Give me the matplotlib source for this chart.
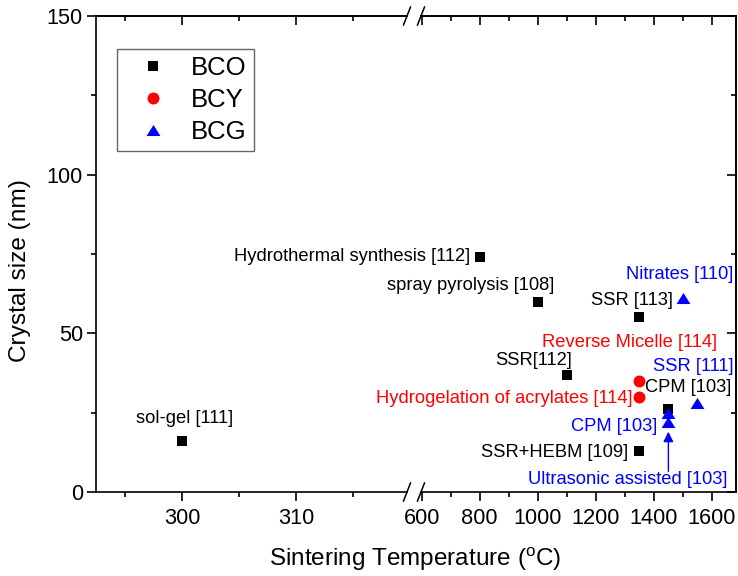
import matplotlib
matplotlib.use("Agg")
import matplotlib.pyplot as plt
from matplotlib.lines import Line2D
from matplotlib.path import Path

plt.rcParams['font.family'] = ['Liberation Sans', 'DejaVu Sans']
plt.rcParams['mathtext.fontset'] = 'custom'
plt.rcParams['mathtext.rm'] = 'Liberation Sans'
plt.rcParams['mathtext.it'] = 'Liberation Sans:italic'

# ---- data: sintering temperature (°C) vs crystal size (nm) ----
bco_temp = [300, 800, 1000, 1350, 1100, 1450, 1350]
bco_size = [16, 74, 60, 55, 37, 26, 13]

bcy_temp = [1350, 1350]
bcy_size = [35, 30]

bcg_temp = [1500, 1550, 1450, 1450]
bcg_size = [61, 28, 25, 22]

series_names = ["BCO", "BCY", "BCG"]
series_colors = ["black", "#ff0000", "#0000ff"]

# method labels: text, x, y, colour, horizontal alignment
labels = [
    ("sol-gel [111]", 300.2, 23.2, "black", "center"),
    ("Hydrothermal synthesis [112]", 766, 74.2, "black", "right"),
    ("spray pyrolysis [108]", 768, 65.1, "black", "center"),
    ("SSR [113]", 1326, 60.4, "black", "center"),
    ("SSR[112]", 987, 41.4, "black", "center"),
    ("CPM [103]", 1519, 32.8, "black", "center"),
    ("SSR+HEBM [109]", 1311, 12.6, "black", "right"),
    ("Reverse Micelle [114]", 1316, 47.1, "#ff0000", "center"),
    ("Hydrogelation of acrylates [114]", 1328, 29.6, "#ff0000", "right"),
    ("Nitrates [110]", 1490, 68.4, "#0000ff", "center"),
    ("SSR [111]", 1536, 39.4, "#0000ff", "center"),
    ("CPM [103]", 1410, 20.5, "#0000ff", "right"),
    ("Ultrasonic assisted [103]", 1309, 3.8, "#0000ff", "center"),
]

# ---- figure with a broken x axis (two panels) ----
W, H = 738, 576
fig = plt.figure(figsize=(W / 100, H / 100), dpi=100)

ax_bot, ax_top = 492, 16
x_left, x_brk_l, x_brk_r, x_right = 96, 407, 421, 736
fb = (H - ax_bot) / H
fh = (ax_bot - ax_top) / H
ax1 = fig.add_axes([x_left / W, fb, (x_brk_l - x_left) / W, fh])
ax2 = fig.add_axes([x_brk_r / W, fb, (x_right - x_brk_r) / W, fh])

ax1.set_xlim(292.46, 319.7)
ax2.set_xlim(597.6, 1683)
for ax in (ax1, ax2):
    ax.set_ylim(0, 150)

tri = Path([(-1, -0.8), (1, -0.8), (0, 0.8), (-1, -0.8)],
           [Path.MOVETO, Path.LINETO, Path.LINETO, Path.CLOSEPOLY])

for ax in (ax1, ax2):
    ax.plot(bco_temp, bco_size, ls='none', marker='s', ms=7.7,
            color=series_colors[0], mew=0)
    ax.plot(bcy_temp, bcy_size, ls='none', marker='o', ms=8.6,
            color=series_colors[1], mew=0)
    ax.plot(bcg_temp, bcg_size, ls='none', marker=tri, ms=10,
            color=series_colors[2], mew=0)

lw = 1.2
tick_fs = 15.7
maj_len, min_len = 6.5, 3.5

# left panel
ax1.spines['right'].set_visible(False)
ax1.set_xticks([300, 310])
ax1.set_xticks([295, 305, 315], minor=True)
ax1.set_yticks([0, 50, 100, 150])
ax1.set_yticks([25, 75, 125], minor=True)
ax1.tick_params(which='both', direction='out', width=lw, labelsize=tick_fs,
                top=False, right=False)
ax1.tick_params(which='major', length=maj_len)
ax1.tick_params(which='minor', length=min_len)
ax1.tick_params(axis='x', pad=5)
ax1.tick_params(axis='y', pad=3)

# right panel
ax2.spines['left'].set_visible(False)
ax2.set_xticks([600, 800, 1000, 1200, 1400, 1600])
ax2.set_xticks([700, 900, 1100, 1300, 1500], minor=True)
ax2.tick_params(which='both', direction='out', width=lw, labelsize=tick_fs,
                top=False, right=False, left=False, labelleft=False)
ax2.tick_params(which='major', length=maj_len)
ax2.tick_params(which='minor', length=min_len)
ax2.tick_params(axis='x', pad=5)

for ax in (ax1, ax2):
    for s in ax.spines.values():
        s.set_linewidth(lw)

# inward mirror ticks on top and right
for ax in (ax1, ax2):
    sec = ax.secondary_xaxis('top')
    sec.set_xticks(ax.get_xticks())
    sec.set_xticks(ax.get_xticks(minor=True), minor=True)
    sec.set_xticklabels([])
    sec.tick_params(which='both', direction='in', width=lw)
    sec.tick_params(which='major', length=maj_len)
    sec.tick_params(which='minor', length=min_len)
    sec.spines['top'].set_linewidth(lw)
    ax.set_xlim(ax.get_xlim())

secy = ax2.secondary_yaxis('right')
secy.set_yticks([0, 50, 100, 150])
secy.set_yticks([25, 75, 125], minor=True)
secy.set_yticklabels([])
secy.tick_params(which='both', direction='in', width=lw)
secy.tick_params(which='major', length=maj_len)
secy.tick_params(which='minor', length=min_len)
secy.spines['right'].set_linewidth(lw)

# break marks
for xc in (x_brk_l, x_brk_r):
    for yc in (ax_top, ax_bot):
        fig.add_artist(Line2D([(xc - 3.5) / W, (xc + 3.5) / W],
                              [(H - yc - 9) / H, (H - yc + 9) / H],
                              color='black', lw=1.1, transform=fig.transFigure))

# method labels
for text, x, y, col, ha in labels:
    ax = ax1 if x < 500 else ax2
    ax.text(x, y, text, color=col, ha=ha, va='center', fontsize=13.2)

# arrow pointing to the ultrasonic-assisted point
ax2.annotate('', xy=(1450, 19), xytext=(1450, 6.5),
             arrowprops=dict(arrowstyle='-|>,head_length=0.5,head_width=0.25',
                             color='#0000ff', lw=1.0, mutation_scale=12,
                             shrinkA=0, shrinkB=0))

# axis titles
fig.text(415 / W, 10 / H, r'Sintering Temperature ($^{\mathrm{o}}$C)',
         ha='center', va='baseline', fontsize=17.5)
fig.text(20 / W, (H - 270.5) / H, 'Crystal size (nm)', rotation=90,
         ha='center', va='center', fontsize=17.6)

# legend
handles = [
    Line2D([], [], ls='none', marker='s', ms=7.7, color=series_colors[0], mew=0),
    Line2D([], [], ls='none', marker='o', ms=8.6, color=series_colors[1], mew=0),
    Line2D([], [], ls='none', marker=tri, ms=10, color=series_colors[2], mew=0),
]
leg = fig.legend(handles, series_names, loc='upper left',
                 bbox_to_anchor=(117 / W, (H - 48.5) / H), borderaxespad=0,
                 fontsize=18.5, frameon=True, fancybox=False, borderpad=0.3,
                 handlelength=2.2, handletextpad=0.36, labelspacing=0.3)
leg.get_frame().set_edgecolor('#404040')
leg.get_frame().set_linewidth(1.0)

fig.savefig('out.png', dpi=100)
